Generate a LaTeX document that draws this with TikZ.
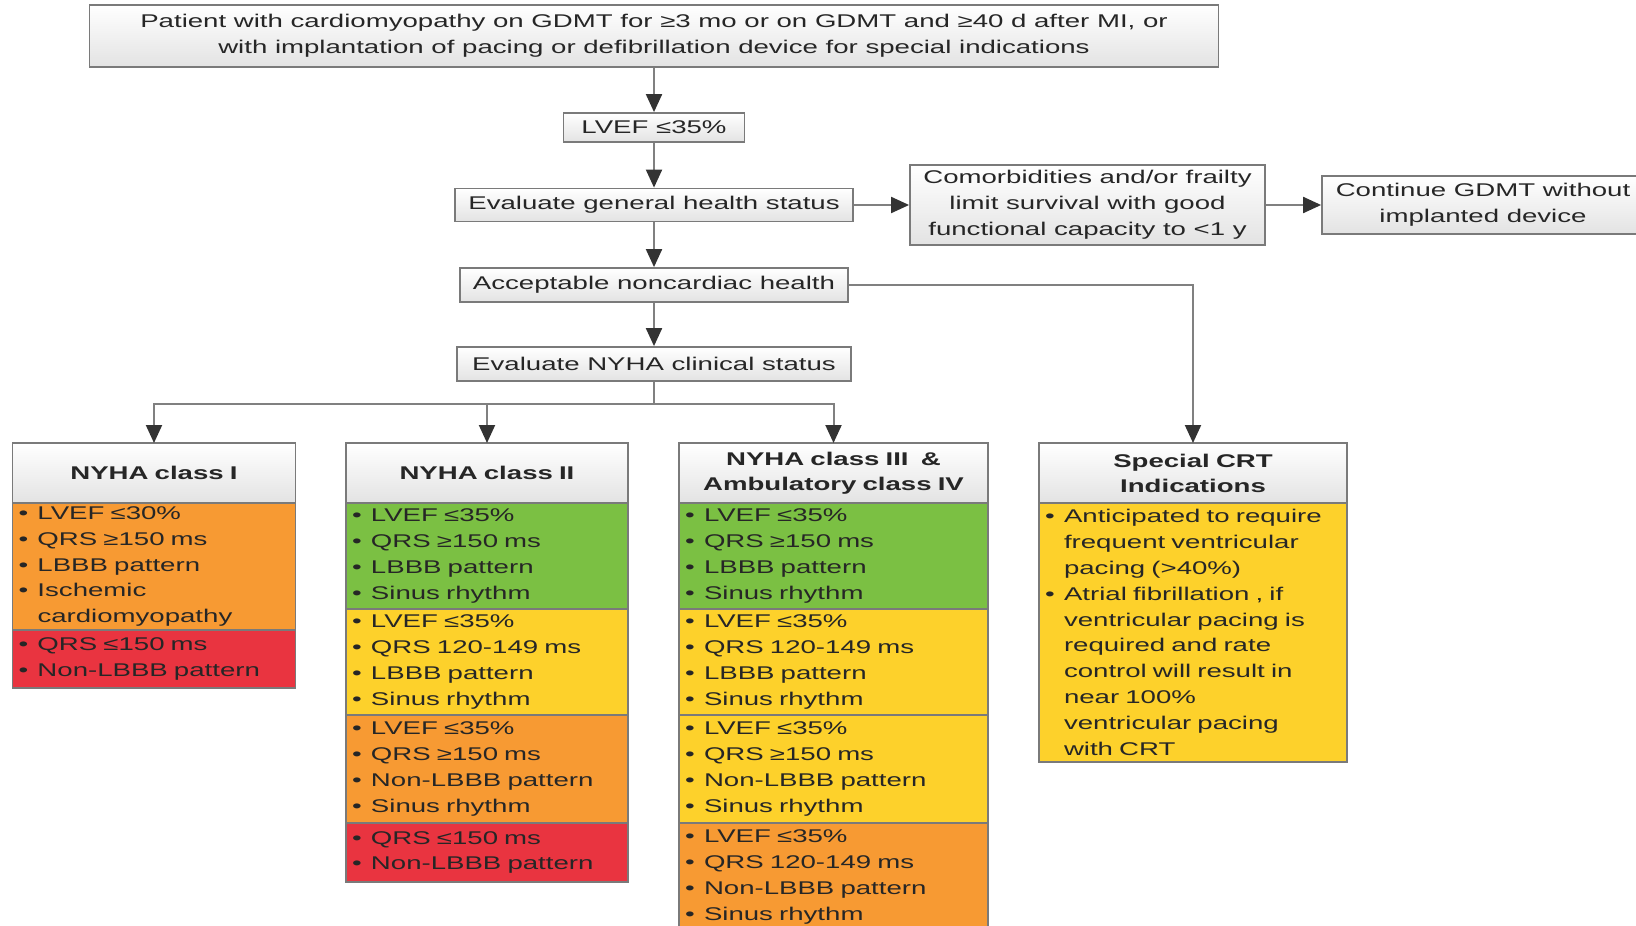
\documentclass[tikz,border=0pt]{standalone}
\usepackage{fontspec}
\setmainfont{Liberation Sans}[FakeStretch=1.5]
\usepackage{xcolor}
\usepackage{tikz}
\usetikzlibrary{arrows.meta,calc,positioning,shapes}
\definecolor{boxgray}{HTML}{7A7A7A}
\definecolor{linegray}{HTML}{808080}
\definecolor{tipgray}{HTML}{333333}
\definecolor{crtgreen}{HTML}{7BC043}
\definecolor{crtyellow}{HTML}{FDD12B}
\definecolor{crtorange}{HTML}{F79A33}
\definecolor{crtred}{HTML}{E93440}
\newcommand{\bl}{\makebox[9.5pt][l]{\textbullet}}
\newcommand{\ind}{\hspace*{9.5pt}}
\tikzset{%
	txt/.style      = {font=\fontsize{9.2}{12.9}\selectfont, text=black!85},
	process/.style  = {txt, draw=boxgray, line width=0.9pt, top color=white, bottom color=gray!22, align=center, inner sep=2pt},
	header/.style   = {process, font=\fontsize{9.2}{12.5}\selectfont\bfseries, inner xsep=3pt, outer sep=0pt, minimum height=30pt, text width=#1},
	crit/.style     = {txt, draw=boxgray, line width=0.9pt, fill=#1, align=left, inner xsep=3pt, inner ysep=0pt, outer sep=0pt},
	arrow/.style    = {draw=linegray, line width=1pt, -{Triangle[width=8pt,length=9pt,color=tipgray]}},
}
\begin{document}
\begin{tikzpicture}[x=0.5pt,y=-0.5pt]
\useasboundingbox (0,0) rectangle (1636,925);
% top of the chart
\node[process, minimum width=564.5pt, minimum height=31pt] (patient) at (654,36) {Patient with cardiomyopathy on GDMT for ≥3 mo or on GDMT and ≥40 d after MI, or\\with implantation of pacing or defibrillation device for special indications};
\node[process, minimum width=90.5pt, minimum height=14.5pt] (lvef) at (654,127.5) {LVEF ≤35\%};
\node[process, minimum width=199pt, minimum height=16.5pt] (health) at (654,205) {Evaluate general health status};
\node[process, minimum width=177.5pt, minimum height=40pt] (comorb) at (1087.5,205) {Comorbidities and/or frailty\\limit survival with good\\functional capacity to <1 y};
\node[process, minimum width=161pt, minimum height=29pt] (nodevice) at (1483,205) {Continue GDMT without\\implanted device};
\node[process, minimum width=194pt, minimum height=17pt] (accept) at (654,285) {Acceptable noncardiac health};
\node[process, minimum width=197pt, minimum height=17pt] (nyha) at (654,364) {Evaluate NYHA clinical status};
\coordinate (split) at (654,404);
% class I
\node[header=135.5pt] (classI) at (154,473) {NYHA class I};
\node[crit=crtorange, text width=135.5pt, minimum height=63.5pt, below=0pt of classI] (classIa) {\bl LVEF ≤30\%\\\bl QRS ≥150 ms\\\bl LBBB pattern\\\bl Ischemic\\\ind cardiomyopathy};
\node[crit=crtred, text width=135.5pt, minimum height=29pt, below=0pt of classIa] (classIb) {\bl QRS ≤150 ms\\\bl Non-LBBB pattern};
% class II
\node[header=135pt] (classII) at (487,473) {NYHA class II};
\node[crit=crtgreen, text width=135pt, minimum height=53pt, below=0pt of classII] (classIIa) {\bl LVEF ≤35\%\\\bl QRS ≥150 ms\\\bl LBBB pattern\\\bl Sinus rhythm};
\node[crit=crtyellow, text width=135pt, minimum height=53pt, below=0pt of classIIa] (classIIb) {\bl LVEF ≤35\%\\\bl QRS 120-149 ms\\\bl LBBB pattern\\\bl Sinus rhythm};
\node[crit=crtorange, text width=135pt, minimum height=54pt, below=0pt of classIIb] (classIIc) {\bl LVEF ≤35\%\\\bl QRS ≥150 ms\\\bl Non-LBBB pattern\\\bl Sinus rhythm};
\node[crit=crtred, text width=135pt, minimum height=29.5pt, below=0pt of classIIc] (classIId) {\bl QRS ≤150 ms\\\bl Non-LBBB pattern};
% class III and IV
\node[header=148.5pt] (classIII) at (833.5,473) {NYHA class III\ \ \&\\Ambulatory class IV};
\node[crit=crtgreen, text width=148.5pt, minimum height=53pt, below=0pt of classIII] (classIIIa) {\bl LVEF ≤35\%\\\bl QRS ≥150 ms\\\bl LBBB pattern\\\bl Sinus rhythm};
\node[crit=crtyellow, text width=148.5pt, minimum height=53pt, below=0pt of classIIIa] (classIIIb) {\bl LVEF ≤35\%\\\bl QRS 120-149 ms\\\bl LBBB pattern\\\bl Sinus rhythm};
\node[crit=crtyellow, text width=148.5pt, minimum height=54pt, below=0pt of classIIIb] (classIIIc) {\bl LVEF ≤35\%\\\bl QRS ≥150 ms\\\bl Non-LBBB pattern\\\bl Sinus rhythm};
\node[crit=crtorange, text width=148.5pt, minimum height=54pt, below=0pt of classIIIc] (classIIId) {\bl LVEF ≤35\%\\\bl QRS 120-149 ms\\\bl Non-LBBB pattern\\\bl Sinus rhythm};
% special indications
\node[header=148pt] (special) at (1193,473) {Special CRT\\Indications};
\node[crit=crtyellow, text width=148pt, minimum height=129.5pt, below=0pt of special] (speciala) {\bl Anticipated to require\\\ind frequent ventricular\\\ind pacing (>40\%)\\\bl Atrial fibrillation , if\\\ind ventricular pacing is\\\ind required and rate\\\ind control will result in\\\ind near 100\%\\\ind ventricular pacing\\\ind with CRT};
% connectors
\draw[arrow] (patient) -- (lvef);
\draw[arrow] (lvef) -- (health);
\draw[arrow] (health) -- (comorb);
\draw[arrow] (comorb) -- (nodevice);
\draw[arrow] (health) -- (accept);
\draw[arrow] (accept) -- (nyha);
\draw[arrow] (accept.east) -| (special.north);
\draw[draw=linegray, line width=1pt] (nyha.south) -- (split);
\draw[arrow] (split) -| (classI.north);
\draw[arrow] (split) -| (classII.north);
\draw[arrow] (split) -| (classIII.north);
\end{tikzpicture}
\end{document}
